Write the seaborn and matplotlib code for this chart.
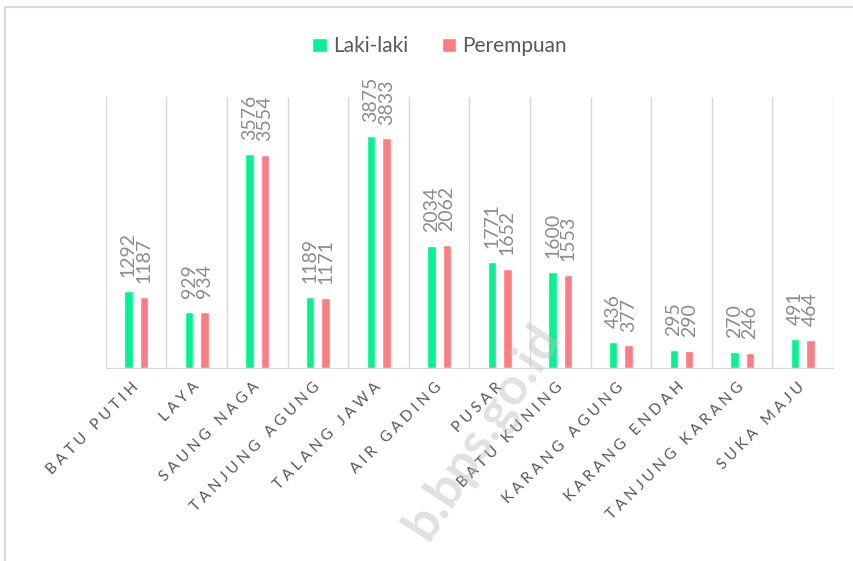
import pandas as pd
import matplotlib.pyplot as plt
import seaborn as sns
from matplotlib.lines import Line2D

desa = ["BATU PUTIH", "LAYA", "SAUNG NAGA", "TANJUNG AGUNG", "TALANG JAWA",
        "AIR GADING", "PUSAR", "BATU KUNING", "KARANG AGUNG", "KARANG ENDAH",
        "TANJUNG KARANG", "SUKA MAJU"]
laki = [1292, 929, 3576, 1189, 3875, 2034, 1771, 1600, 436, 295, 270, 491]
perempuan = [1187, 934, 3554, 1171, 3833, 2062, 1652, 1553, 377, 290, 246, 464]
seri = ["Laki-laki", "Perempuan"]
warna = ["#00F590", "#FF7C80"]

df = pd.DataFrame({
    "desa": desa * 2,
    "jenis": [seri[0]] * len(desa) + [seri[1]] * len(desa),
    "jumlah": laki + perempuan,
})

sns.set_style("white")
plt.rcParams["font.family"] = ["Lato", "DejaVu Sans"]

fig = plt.figure(figsize=(8.54, 5.61), dpi=100)
ax = fig.add_axes([0.124, 0.344, 0.8514, 0.483])

sns.barplot(data=df, x="desa", y="jumlah", hue="jenis", order=desa,
            hue_order=seri, palette=warna, width=0.51, gap=0.45,
            saturation=1, ax=ax)

for cont in ax.containers:
    ax.bar_label(cont, rotation=90, padding=10, color="#8C8C8C", fontsize=14)

# garis pemisah kategori
for i in range(len(desa) + 1):
    ax.axvline(i - 0.5, color="#D9D9D9", lw=1, zorder=0)

ax.set_xlim(-0.5, len(desa) - 0.5)
ax.set_ylim(0, 4525)
ax.set_yticks([])
ax.set_xlabel("")
ax.set_ylabel("")
for s in ["top", "left", "right"]:
    ax.spines[s].set_visible(False)
ax.spines["bottom"].set_color("#D9D9D9")

# label sumbu x dengan jarak antar huruf (seperti di Excel)
ax.set_xticks(range(len(desa)))
ax.set_xticklabels(["\u2009\u2009".join(d) for d in desa])
ax.tick_params(axis="x", length=0, pad=12)
plt.setp(ax.get_xticklabels(), rotation=45, ha="right", va="center",
         rotation_mode="anchor", color="#595959", fontsize=11)

sns.move_legend(ax, "center", bbox_to_anchor=(0.459, 1.188), ncol=2,
                frameon=False, title=None, fontsize=15, handlelength=0.7,
                handleheight=0.7, handletextpad=0.3, columnspacing=1.6,
                labelcolor="#595959")

# bingkai luar
fig.add_artist(Line2D([5 / 854, 5 / 854], [0, 1 - 7 / 561], color="#D9D9D9", lw=1.5))
fig.add_artist(Line2D([5 / 854, 1], [1 - 7 / 561, 1 - 7 / 561], color="#D9D9D9", lw=1.5))

# watermark
fig.text(550 / 854, 1 - 328 / 561, "b.bps.go.id", rotation=57, ha="right",
         va="center", rotation_mode="anchor", fontsize=37, fontweight="bold",
         color="#BEBEBE", alpha=0.45)

fig.savefig("out.png", dpi=100)
